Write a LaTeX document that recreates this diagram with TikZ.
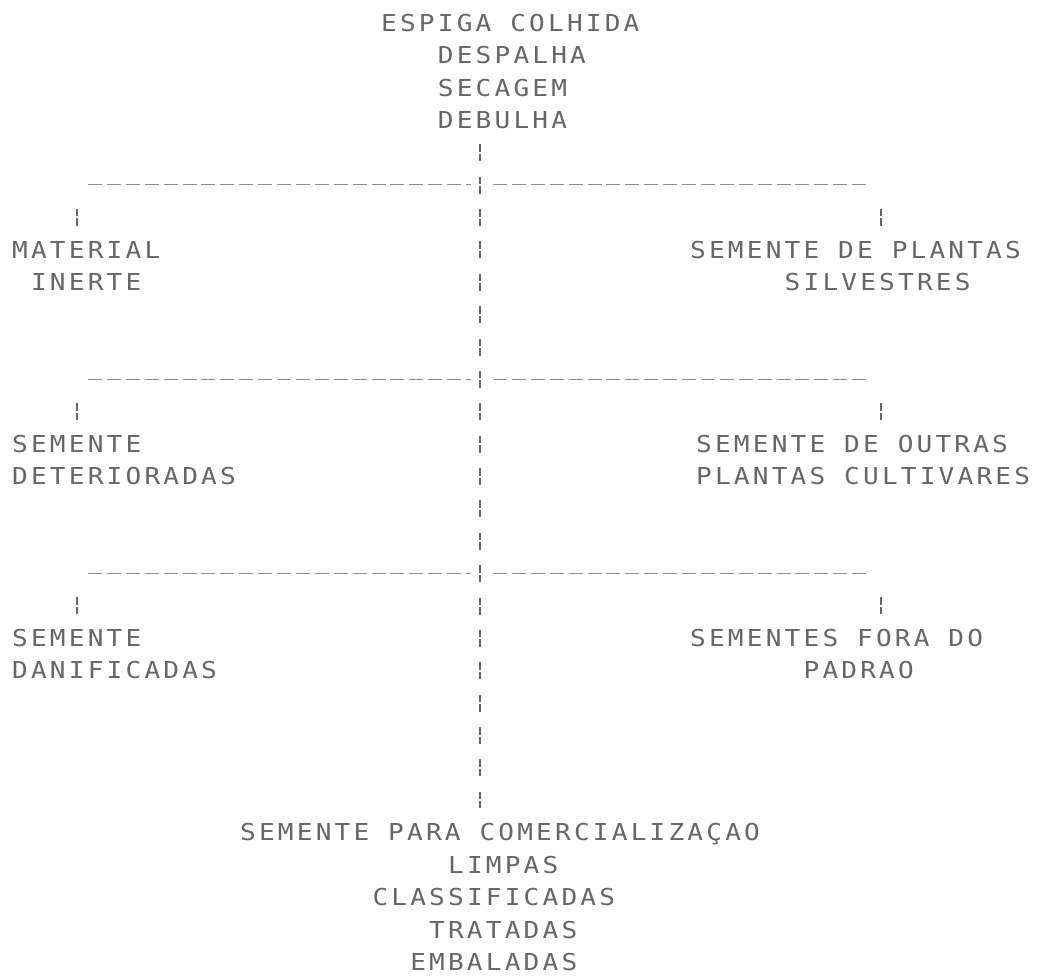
\documentclass[tikz,border=0pt]{standalone}
\usepackage{fontspec}
\newfontfamily\dotfont{DejaVu Sans Mono}[FakeStretch=1.12,LetterSpace=13.7]
\usepackage{tikz}
\usetikzlibrary{calc}

\begin{document}
\begin{tikzpicture}[x=1pt,y=-1pt,
  lbl/.style={anchor=west,inner sep=0pt,text height=16.8pt,text depth=0pt,text=black!60,
    font=\dotfont\fontsize{23.3pt}{24pt}\selectfont},
  hrule/.style={draw=black!45,line width=1pt,dash pattern=on 14pt off 4.9pt},
  bar/.style={draw=black!60,line width=1.6pt,dash pattern=on 7.5pt off 2pt on 7.5pt off 15.38pt},
  stub/.style={bar,shorten <=23.9pt,shorten >=15.5pt}]

  \useasboundingbox (0,0) rectangle (1048,975);

  \node[lbl] at (381,23) (espiga) {ESPIGA COLHIDA};
  \node[lbl] at (437.7,55.4) (despalha) {DESPALHA};
  \node[lbl] at ([yshift=-32.38pt]despalha.west) (secagem) {SECAGEM};
  \node[lbl] at ([yshift=-32.38pt]secagem.west) (debulha) {DEBULHA};

  \node[lbl] at (12,249.7) (material) {MATERIAL};
  \node[lbl] at ([xshift=18.9pt,yshift=-32.38pt]material.west) (inerte) {INERTE};
  \node[lbl] at (690,249.7) (plantas) {SEMENTE DE PLANTAS};
  \node[lbl] at ([xshift=94.5pt,yshift=-32.38pt]plantas.west) (silv) {SILVESTRES};

  \node[lbl] at (12,443.9) (sem1) {SEMENTE};
  \node[lbl] at ([yshift=-32.38pt]sem1.west) (deter) {DETERIORADAS};
  \node[lbl] at (696,443.9) (outras) {SEMENTE DE OUTRAS};
  \node[lbl] at ([yshift=-32.38pt]outras.west) (cultiv) {PLANTAS CULTIVARES};

  \node[lbl] at (12,638.2) (sem2) {SEMENTE};
  \node[lbl] at ([yshift=-32.38pt]sem2.west) (danif) {DANIFICADAS};
  \node[lbl] at (690,638.2) (fora) {SEMENTES FORA DO};
  \node[lbl] at ([xshift=113.4pt,yshift=-32.38pt]fora.west) (padrao) {PADRAO};

  \node[lbl] at (240,832.5) (comerc) {SEMENTE PARA COMERCIALIZAÇAO};
  \node[lbl] at ([xshift=207.9pt,yshift=-32.38pt]comerc.west) (limpas) {LIMPAS};
  \node[lbl] at ([xshift=132.3pt,yshift=-64.76pt]comerc.west) (classif) {CLASSIFICADAS};
  \node[lbl] at ([xshift=189pt,yshift=-97.14pt]comerc.west) (tratadas) {TRATADAS};
  \node[lbl] at ([xshift=170.1pt,yshift=-129.52pt]comerc.west) (embal) {EMBALADAS};

  % main stem
  \coordinate (axis) at (480,0);
  \draw[bar,shorten <=15.5pt,shorten >=15.5pt] (debulha.south -| axis) -- (comerc.north -| axis);

  % first split
  \coordinate (l1a) at (88,184.9);
  \coordinate (l1b) at (471,184.9);
  \coordinate (r1a) at (493,184.9);
  \coordinate (r1b) at (870,184.9);
  \coordinate (tl1) at (77,184.9);
  \coordinate (tr1) at (881,184.9);
  \draw[hrule] (l1a) -- (l1b);
  \draw[hrule] (r1a) -- (r1b);
  \draw[stub] (tl1) -- (tl1 |- material.north);
  \draw[stub] (tr1) -- (tr1 |- plantas.north);

  % second split
  \coordinate (l2a) at (88,379.2);
  \coordinate (l2b) at (471,379.2);
  \coordinate (r2a) at (493,379.2);
  \coordinate (r2b) at (870,379.2);
  \coordinate (tl2) at (77,379.2);
  \coordinate (tr2) at (881,379.2);
  \draw[hrule] (l2a) -- (l2b);
  \draw[hrule] (r2a) -- (r2b);
  \draw[stub] (tl2) -- (tl2 |- sem1.north);
  \draw[stub] (tr2) -- (tr2 |- outras.north);

  % third split
  \coordinate (l3a) at (88,573.5);
  \coordinate (l3b) at (471,573.5);
  \coordinate (r3a) at (493,573.5);
  \coordinate (r3b) at (870,573.5);
  \coordinate (tl3) at (77,573.5);
  \coordinate (tr3) at (881,573.5);
  \draw[hrule] (l3a) -- (l3b);
  \draw[hrule] (r3a) -- (r3b);
  \draw[stub] (tl3) -- (tl3 |- sem2.north);
  \draw[stub] (tr3) -- (tr3 |- fora.north);

\end{tikzpicture}
\end{document}
